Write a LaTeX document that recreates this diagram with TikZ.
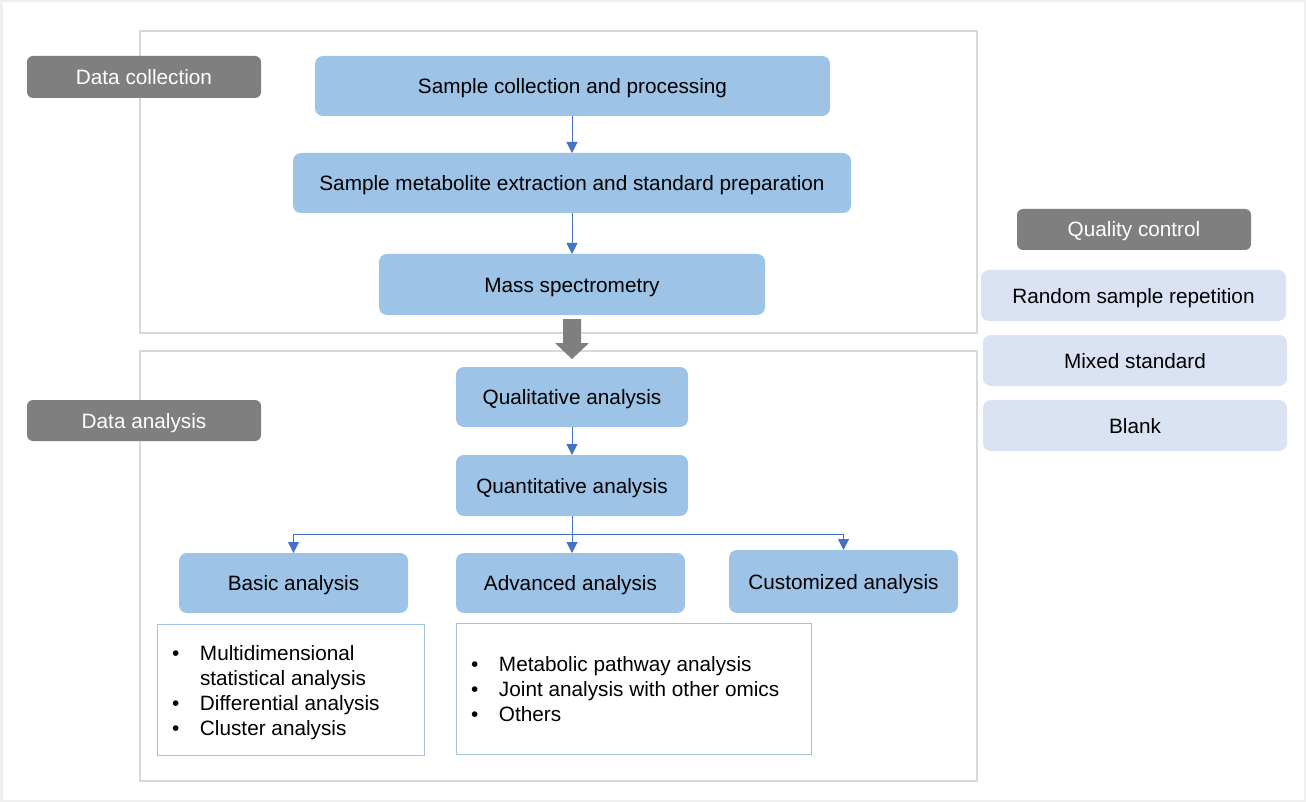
\documentclass[tikz,border=0pt]{standalone}
\usepackage{fontspec}
\setmainfont{Liberation Sans}
\usetikzlibrary{arrows.meta,calc}
\definecolor{boxblue}{HTML}{9DC3E6}
\definecolor{lightblue}{HTML}{DAE3F3}
\definecolor{darkgray}{HTML}{7F7F7F}
\definecolor{arrowblue}{HTML}{4472C4}
\definecolor{framegray}{HTML}{D9D9D9}
\definecolor{outergray}{HTML}{EFEFEF}
\tikzset{
  base/.style={inner sep=0pt, outer sep=0pt, font=\fontsize{20.75}{25}\selectfont, align=center},
  label/.style={base, text height=15pt, text depth=0pt},
  bluebox/.style={label, fill=boxblue, rounded corners=8pt},
  graybox/.style={label, fill=darkgray, text=white, rounded corners=6pt},
  qcbox/.style={label, fill=lightblue, rounded corners=8pt},
  container/.style={base, draw=framegray, line width=2pt},
  listbox/.style={base, draw=boxblue, line width=1pt},
  listtext/.style={base, align=left, anchor=west},
  arr/.style={draw=arrowblue, line width=1pt, -{Triangle[width=11pt,length=11pt]}},
}
\begin{document}
\begin{tikzpicture}[x=1pt,y=-1pt]
\useasboundingbox (0,0) rectangle (1306,802);
\fill[white] (0,0) rectangle (1306,802);
\draw[outergray, line width=2.5pt] (1.25,1.25) rectangle (1304.75,800.75);

% containers
\node[container, minimum width=837pt, minimum height=302pt] (topc) at (558.5,182) {};
\node[container, minimum width=837pt, minimum height=430pt] (botc) at (558.5,566) {};

% labels
\node[graybox, minimum width=234pt, minimum height=42pt] (dc) at (144,77) {Data collection};
\node[graybox, minimum width=234pt, minimum height=41pt] (da) at (144,420.5) {Data analysis};
\node[graybox, minimum width=234pt, minimum height=41pt] (qc) at (1134,229.5) {Quality control};

% data collection flow
\node[bluebox, minimum width=515pt, minimum height=60pt] (s1) at (572.5,86) {Sample collection and processing};
\node[bluebox, minimum width=558pt, minimum height=60pt] (s2) at (572,183) {Sample metabolite extraction and standard preparation};
\node[bluebox, minimum width=386pt, minimum height=61pt] (ms) at (572,284.5) {Mass spectrometry};

% data analysis flow
\node[bluebox, minimum width=232pt, minimum height=60pt] (ql) at (572,397) {Qualitative analysis};
\node[bluebox, minimum width=232pt, minimum height=61pt] (qn) at (572,485.5) {Quantitative analysis};
\node[bluebox, minimum width=229pt, minimum height=60pt] (ba) at (293.5,583) {Basic analysis};
\node[bluebox, minimum width=229pt, minimum height=60pt] (aa) at (570.5,583) {Advanced analysis};
\node[bluebox, minimum width=229pt, minimum height=63pt] (ca) at (843.5,581.5) {Customized analysis};

% quality control items
\node[qcbox, minimum width=305pt, minimum height=51pt] (r1) at (1133.5,295.5) {Random sample repetition};
\node[qcbox, minimum width=304pt, minimum height=51pt] (r2) at (1135,360.5) {Mixed standard};
\node[qcbox, minimum width=304pt, minimum height=51pt] (r3) at (1135,425.5) {Blank};

% lists
\node[listbox, minimum width=267pt, minimum height=131pt] (l1) at (290.5,689.5) {};
\node[listtext] (t1) at ($(l1.west)+(15,3)$) {%
\begin{tabular}{@{}p{28pt}@{}l@{}}
\textbullet & Multidimensional\\
 & statistical analysis\\
\textbullet & Differential analysis\\
\textbullet & Cluster analysis
\end{tabular}};
\node[listbox, minimum width=355pt, minimum height=131pt] (l2) at (633.5,688.5) {};
\node[listtext] (t2) at ($(l2.west)+(15,3)$) {%
\begin{tabular}{@{}p{28pt}@{}l@{}}
\textbullet & Metabolic pathway analysis\\
\textbullet & Joint analysis with other omics\\
\textbullet & Others
\end{tabular}};

% arrows
\draw[arr] (s1.south -| s2.north) -- (s2.north);
\draw[arr] (s2.south) -- (ms.north);
\draw[arr] (ql.south) -- (qn.north);
\coordinate (split) at (572,534);
\draw[arr] (qn.south) -- (split) -| (ba.north);
\draw[arr] (split) -| (ca.north);
\draw[arr] (split) -- (split |- aa.north);

% big gray arrow between containers
\coordinate (bt) at (572,319);
\coordinate (bb) at (572,359);
\fill[darkgray] ($(bt)+(-9,0)$) -- ($(bt)+(9,0)$) -- ($(bt)+(9,24)$) -- ($(bt)+(17,24)$) -- (bb) -- ($(bt)+(-17,24)$) -- ($(bt)+(-9,24)$) -- cycle;
\end{tikzpicture}
\end{document}
